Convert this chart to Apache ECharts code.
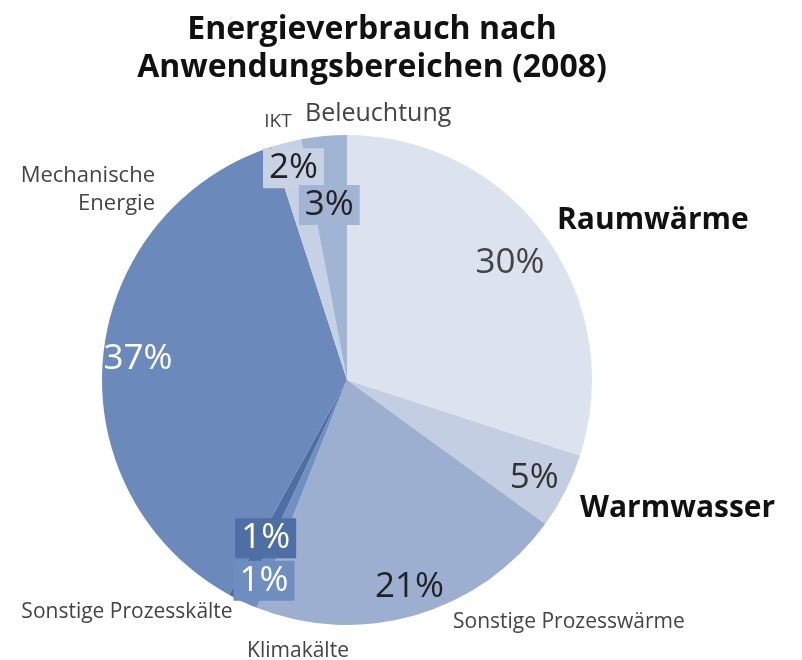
<!DOCTYPE html>
<html>
<head>
<meta charset="utf-8">
<script src="https://cdn.jsdelivr.net/npm/echarts@6/dist/echarts.min.js"></script>
<style>
  html, body { margin: 0; padding: 0; background: #fff; }
  #chart { width: 802px; height: 660px; }
</style>
</head>
<body>
<div id="chart"></div>
<script>
// Anteile am Energieverbrauch (%), im Uhrzeigersinn ab 12 Uhr
var categories = ['Raumwärme', 'Warmwasser', 'Sonstige Prozesswärme', 'Klimakälte',
  'Sonstige Prozesskälte', 'Mechanische Energie', 'IKT', 'Beleuchtung'];
var values = [30, 5, 21, 1, 1, 37, 2, 3];
var labelNames = ['Raumwärme', 'Warmwasser', 'Sonstige Prozesswärme', 'Klimakälte',
  'Sonstige Prozesskälte', 'Mechanische\nEnergie', 'IKT', 'Beleuchtung'];

var sliceColors = ['#dce3ef', '#c3cee2', '#9cafd1', '#7090c2', '#4f6ea4', '#6b8abb', '#c6d1e4', '#a0b4d4'];
var pctColors = ['#444', '#333', '#222', '#fff', '#fff', '#fff', '#222', '#222'];
var pctBoxes = [null, null, null, '#6f8ec0', '#4f6ea3', null, '#c8d2e5', '#a2b4d4'];
var pctNudge = [[2, 0], [10, 8], [7, 16], [-4, 18], [9, -19], [-11, -2], [-4, -19], [1, 23]];

// Lage der Beschriftungen (Ankerpunkt, Ausrichtung, Schrift)
var nameSpots = [
  { x: 557, y: 220, align: 'left', size: 30, bold: true, color: '#111' },
  { x: 580, y: 508, align: 'left', size: 30, bold: true, color: '#111' },
  { x: 453, y: 622, align: 'left', size: 21, color: '#444' },
  { x: 298, y: 651, align: 'center', size: 21, color: '#444' },
  { x: 127, y: 612, align: 'center', size: 21, color: '#444' },
  { x: 155, y: 190, align: 'right', size: 22, color: '#444' },
  { x: 278, y: 122, align: 'center', size: 19, color: '#444' },
  { x: 305, y: 114, align: 'left', size: 25, color: '#444' }
];

var R = 245;
var center = [347, 380];

var myChart = echarts.init(document.getElementById('chart'));

var mainData = categories.map(function (c, i) {
  var s = nameSpots[i];
  return {
    name: c,
    value: values[i],
    itemStyle: { color: sliceColors[i] },
    label: {
      formatter: labelNames[i],
      fontSize: s.size,
      fontWeight: s.bold ? 'bold' : 'normal',
      color: s.color,
      align: s.align,
      lineHeight: s.size + 6
    }
  };
});

var pctData = categories.map(function (c, i) {
  var lab = {
    formatter: values[i] + '%',
    color: pctColors[i],
    offset: pctNudge[i]
  };
  if (pctBoxes[i]) {
    lab.backgroundColor = pctBoxes[i];
    lab.padding = [3, 6, 2, 6];
  }
  return { name: c, value: values[i], label: lab };
});

var option = {
  backgroundColor: '#fff',
  animation: false,
  title: {
    text: 'Energieverbrauch nach\nAnwendungsbereichen (2008)',
    left: 367,
    top: 6,
    textAlign: 'center',
    textStyle: {
      fontFamily: 'Open Sans',
      fontSize: 32,
      fontWeight: 'bold',
      color: '#111',
      lineHeight: 38
    }
  },
  series: [
    {
      type: 'pie',
      center: center,
      radius: [0, R],
      startAngle: 90,
      clockwise: true,
      silent: true,
      data: mainData,
      label: {
        show: true,
        position: 'outside',
        fontFamily: 'Open Sans',
        overflow: 'none'
      },
      labelLine: { show: false },
      labelLayout: function (p) {
        var s = nameSpots[p.dataIndex];
        return { x: s.x, y: s.y, align: s.align, verticalAlign: 'middle', hideOverlap: false };
      }
    },
    {
      // unsichtbarer Ring, damit die Prozentwerte weiter außen stehen
      type: 'pie',
      center: center,
      radius: [0, R * 1.6],
      startAngle: 90,
      clockwise: true,
      silent: true,
      itemStyle: { color: 'rgba(0,0,0,0)' },
      data: pctData,
      label: {
        show: true,
        position: 'inside',
        fontFamily: 'Open Sans',
        fontSize: 35
      },
      labelLine: { show: false },
      labelLayout: { hideOverlap: false }
    }
  ]
};

myChart.setOption(option);
</script>
</body>
</html>
